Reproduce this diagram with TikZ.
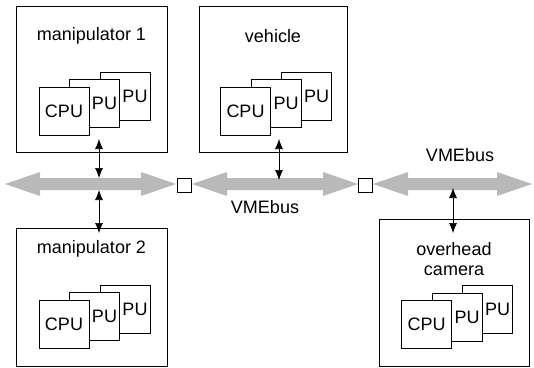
\documentclass[tikz,border=0pt]{standalone}
\usepackage{fontspec}
\setmainfont{Liberation Sans}
\usetikzlibrary{arrows.meta}

% a stack of three processor cards, #2/#3 = centre of the front card
\newcommand{\cpustack}[3]{%
  \node[card] (#1back) at (#2+61,#3-15) {}; \node[txt] at ([xshift=10pt]#1back.center) {PU};
  \node[card] (#1mid) at (#2+30.5,#3-7.5) {}; \node[txt] at ([xshift=10pt]#1mid.center) {PU};
  \node[card] (#1cpu) at (#2,#3) {CPU};}

\begin{document}
\begin{tikzpicture}[x=1pt, y=-1pt, line width=0.65pt, >={Latex[length=10pt,width=8pt]},
  txt/.style={font=\fontsize{18}{20}\selectfont, inner sep=0pt, align=center},
  unit/.style={draw, fill=white, inner sep=0pt},
  card/.style={txt, draw, fill=white, minimum width=50pt, minimum height=48pt},
  junction/.style={draw, fill=white, inner sep=0pt, minimum size=14pt},
  busfill/.style={fill=gray!55}]
\useasboundingbox (0,0) rectangle (534,367);
% VME buses
\foreach \a/\b in {5/176,192/358,373/532}
  \fill[busfill] (\a,184) -- (\a+35,172) -- (\a+35,178) -- (\b-35,178) -- (\b-35,172) -- (\b,184)
    -- (\b-35,196) -- (\b-35,190) -- (\a+35,190) -- (\a+35,196) -- cycle;
\node[junction] (j1) at (184,185) {}; \node[junction] (j2) at (365.5,185) {};
\node[txt] (bus2) at (265,207) {VMEbus}; \node[txt] (bus3) at (460,155) {VMEbus};
% units
\node[unit, minimum width=151pt, minimum height=146pt] (man1) at (91.5,79) {};
\node[unit, minimum width=148pt, minimum height=146pt] (veh) at (273,79) {};
\node[unit, minimum width=151pt, minimum height=138pt] (man2) at (91.5,297) {};
\node[unit, minimum width=150pt, minimum height=147pt] (cam) at (454,292.5) {};
\node[txt] (man1lbl) at (91.5,36) {manipulator 1}; \node[txt] (vehlbl) at (273,36) {vehicle};
\node[txt] (man2lbl) at (91.5,249) {manipulator 2}; \node[txt] (camlbl) at (454,259) {overhead\\camera};
\cpustack{man1}{64}{111} \cpustack{veh}{245.5}{111}
\cpustack{man2}{64}{324} \cpustack{cam}{426.5}{324.5}
% bus connections
\coordinate (man1p) at (99,139); \coordinate (bus1a) at (99,178);
\coordinate (bus1b) at (99,190); \coordinate (man2p) at (99,233);
\coordinate (vehp) at (279,139); \coordinate (bus2a) at (279,180);
\coordinate (bus3a) at (453,188); \coordinate (camp) at (453,233);
\foreach \a/\b in {man1p/bus1a,bus1b/man2p,vehp/bus2a,bus3a/camp}
  \draw[<->] (\a) -- (\b);
\end{tikzpicture}
\end{document}
